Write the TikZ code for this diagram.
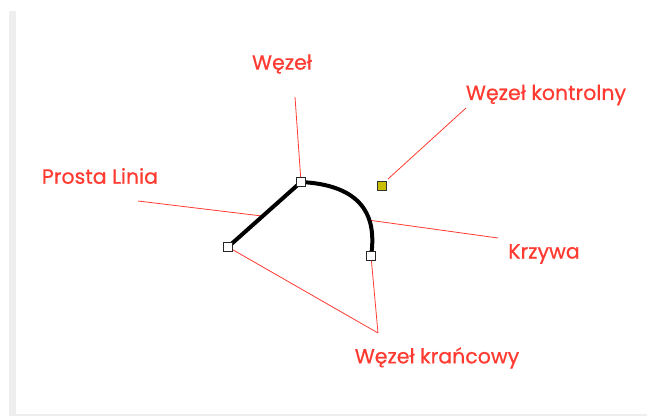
\documentclass[tikz,border=0pt]{standalone}
\usepackage{fontspec}
\setmainfont{Poppins}
\newfontfamily\lblfont{Poppins}[FakeBold=0.6]
\definecolor{lblred}{RGB}{255,58,48}
\definecolor{ctrlyel}{RGB}{200,190,0}
\definecolor{stripgray}{RGB}{238,238,238}
\begin{document}
\begin{tikzpicture}[x=1pt,y=-1pt,
  lbl/.style={text=lblred,font=\lblfont\fontsize{20.5}{24}\selectfont,inner sep=0pt},
  ptr/.style={draw=lblred,line width=0.8pt},
  knot/.style={draw=black!85,fill=white,line width=1pt,minimum size=9.5pt,inner sep=0pt},
  ctrl/.style={draw=black!80,fill=ctrlyel,line width=1pt,minimum size=9.5pt,inner sep=0pt},
  curveline/.style={line width=4pt,black}]
\useasboundingbox (0,0) rectangle (647,416);
\fill[stripgray] (9,11) rectangle (15.5,416);
\fill[stripgray] (15.5,413.5) rectangle (647,415.5);
% labels
\node[lbl] (lw) at (282,64) {Węzeł};
\node[lbl] (lk) at (546,95) {Węzeł kontrolny};
\node[lbl] (lp) at (100,176) {Prosta Linia};
\node[lbl] (lc) at (544,254) {Krzywa};
\node[lbl] (le) at (437,358) {Węzeł krańcowy};
% geometry points
\coordinate (a) at (228,247);
\coordinate (b) at (301,182);
\coordinate (c) at (371,256);
\coordinate (wfree) at (295,97);
\coordinate (kfree) at (466,108);
\coordinate (pfree) at (138,201);
\coordinate (pon) at (262,216);
\coordinate (cfree) at (498,238);
\coordinate (con) at (368,220);
\coordinate (efree) at (378,333);
% pointers
\draw[ptr] (wfree) -- (b);
\draw[ptr] (kfree) -- (388,179);
\draw[ptr] (pfree) -- (pon);
\draw[ptr] (cfree) -- (con);
\draw[ptr] (efree) -- (a);
\draw[ptr] (efree) -- (c);
% curve
\draw[curveline,line cap=round,line join=round] (a) -- (b) .. controls (355,184.7) and (378.3,209.3) .. (c);
% squares
\node[knot] (na) at (a) {};
\node[knot] (nb) at (b) {};
\node[knot] (nc) at (c) {};
\node[ctrl] (nk) at (382,186) {};
\end{tikzpicture}
\end{document}
